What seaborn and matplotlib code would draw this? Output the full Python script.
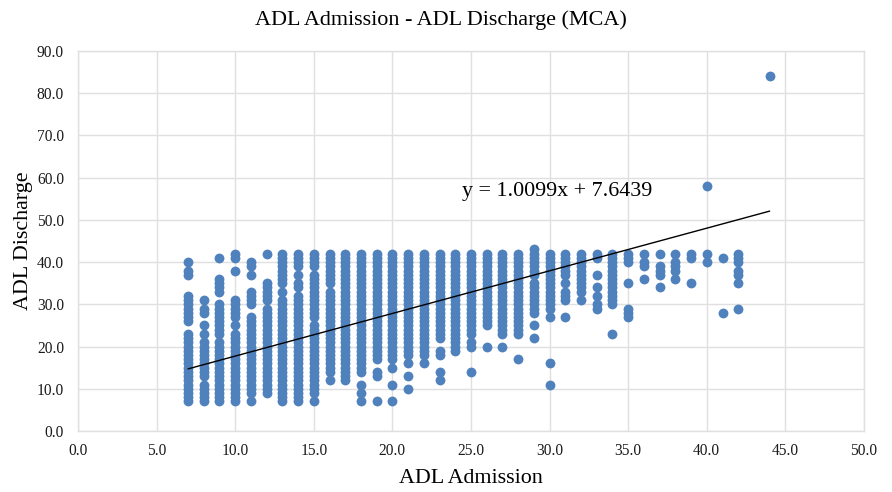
import pandas as pd
import numpy as np
import matplotlib.pyplot as plt
import seaborn as sns

# Discharge scores, one list per admission score
d07 = [40, 38, 37, 32, 31, 30, 29, 28, 27, 26, 23, 22, 21, 20, 19, 18, 17, 16, 15, 14, 13, 12, 11, 10, 9, 8, 7]
d08 = [31, 29, 28, 25, 23, 21, 20, 19, 18, 17, 16, 15, 14, 13, 11, 10, 9, 8, 7]
d09 = [41, 36, 35, 34, 33, 30, 29, 28, 27, 26, 25, 24, 23, 21, 20, 19, 18, 17, 16, 15, 14, 13, 12, 11, 10, 9, 8, 7]
d10 = [42, 41, 38, 31, 30, 29, 28, 27, 25, 23, 22, 21, 20, 19, 18, 17, 16, 15, 14, 13, 12, 11, 10, 9, 8, 7]
d11 = [40, 39, 37, 33, 32, 31, 30, 27, 26, 25, 24, 23, 22, 21, 20, 19, 18, 17, 16, 15, 14, 13, 12, 11, 10, 9, 7]
d12 = [42, 35, 34, 33, 32, 31, 29, 28, 27, 26, 25, 24, 23, 22, 21, 20, 19, 18, 17, 16, 15, 14, 13, 12, 11, 10, 9]
d13 = [42, 41, 40, 39, 38, 37, 36, 35, 33, 31, 30, 29, 28, 27, 26, 25, 24, 23, 22, 21, 20, 19, 18, 17, 16, 15, 14, 13, 12, 11, 10, 9, 8, 7]
d14 = [42, 41, 40, 39, 37, 35, 34, 32, 31, 30, 29, 28, 27, 26, 25, 24, 23, 22, 21, 20, 19, 18, 17, 16, 15, 14, 13, 12, 11, 10, 9, 8, 7]
d15 = [42, 41, 40, 39, 37, 36, 35, 34, 33, 32, 31, 30, 29, 28, 27, 25, 24, 23, 22, 21, 20, 19, 18, 17, 16, 15, 14, 13, 12, 11, 10, 9, 7]
d16 = [42, 41, 40, 39, 38, 37, 36, 35, 33, 32, 31, 30, 29, 28, 27, 26, 25, 24, 23, 22, 21, 20, 19, 18, 17, 16, 15, 14, 12]
d17 = [42, 41, 40, 39, 38, 37, 36, 35, 34, 33, 32, 31, 30, 29, 28, 27, 26, 25, 24, 23, 22, 21, 20, 19, 18, 17, 16, 15, 14, 13, 12]
d18 = [42, 41, 40, 39, 38, 37, 36, 35, 34, 33, 32, 31, 30, 29, 28, 27, 26, 25, 24, 23, 22, 21, 20, 19, 18, 17, 16, 15, 14, 11, 9, 7]
d19 = [42, 41, 40, 39, 38, 37, 36, 35, 34, 33, 32, 31, 30, 29, 28, 27, 26, 25, 24, 23, 22, 21, 20, 19, 18, 17, 14, 13, 7]
d20 = [42, 41, 40, 39, 38, 37, 36, 35, 34, 33, 32, 31, 30, 29, 28, 27, 26, 25, 24, 23, 22, 21, 20, 19, 18, 17, 15, 11, 7]
d21 = [42, 41, 40, 39, 38, 37, 36, 35, 34, 33, 32, 31, 30, 29, 28, 27, 26, 25, 24, 23, 22, 21, 20, 19, 18, 16, 13, 10]
d22 = [42, 41, 40, 39, 38, 37, 36, 35, 34, 33, 32, 31, 30, 29, 28, 27, 26, 25, 24, 23, 22, 21, 20, 19, 18, 16]
d23 = [42, 41, 40, 39, 38, 37, 36, 35, 34, 33, 32, 31, 30, 29, 28, 27, 26, 25, 24, 23, 22, 19, 18, 14, 12]
d24 = [42, 41, 40, 39, 38, 37, 36, 35, 34, 33, 32, 31, 30, 29, 28, 27, 26, 25, 24, 23, 22, 21, 20, 19]
d25 = [42, 41, 40, 39, 38, 37, 36, 35, 34, 33, 32, 31, 30, 29, 28, 27, 26, 25, 24, 23, 21, 20, 14]
d26 = [42, 41, 40, 39, 38, 37, 36, 35, 34, 33, 32, 31, 30, 29, 28, 27, 26, 25, 20]
d27 = [42, 41, 40, 39, 38, 37, 36, 35, 34, 33, 32, 31, 30, 29, 28, 27, 26, 25, 24, 23, 20]
d28 = [42, 41, 40, 39, 38, 37, 36, 35, 34, 33, 32, 31, 30, 29, 28, 27, 26, 25, 24, 23, 17]
d29 = [43, 42, 41, 40, 39, 38, 37, 35, 34, 33, 32, 31, 30, 29, 28, 25, 22]
d30 = [42, 41, 40, 39, 38, 37, 36, 35, 34, 33, 32, 31, 30, 29, 27, 16, 11]
d31 = [42, 41, 40, 39, 38, 37, 35, 33, 32, 31, 27]
d32 = [42, 41, 40, 39, 38, 37, 36, 35, 34, 33, 31]
d33 = [42, 41, 37, 34, 32, 30, 29]
d34 = [42, 41, 40, 39, 38, 37, 36, 35, 34, 33, 32, 31, 30, 23]
d35 = [42, 41, 40, 35, 29, 28, 27]
d36 = [42, 40, 39, 36]
d37 = [42, 39, 38, 37, 34]
d38 = [42, 40, 39, 38, 36]
d39 = [42, 41, 35]
d40 = [58, 42, 40]
d41 = [41, 28]
d42 = [42, 41, 40, 38, 37, 35, 29]
d44 = [84]

admission = [7, 8, 9, 10, 11, 12, 13, 14, 15, 16, 17, 18, 19, 20, 21, 22, 23, 24, 25, 26,
             27, 28, 29, 30, 31, 32, 33, 34, 35, 36, 37, 38, 39, 40, 41, 42, 44]
discharge = [d07, d08, d09, d10, d11, d12, d13, d14, d15, d16, d17, d18, d19, d20, d21, d22, d23, d24, d25, d26,
             d27, d28, d29, d30, d31, d32, d33, d34, d35, d36, d37, d38, d39, d40, d41, d42, d44]

slope = 1.0099
intercept = 7.6439

# Long table for seaborn
rows = []
for a, ys in zip(admission, discharge):
    for y in ys:
        rows.append((a, y))
data = pd.DataFrame(rows, columns=["ADL Admission", "ADL Discharge"])

sns.set_theme(style="white")
plt.rcParams["font.family"] = ["Liberation Serif", "DejaVu Serif"]

fig = plt.figure(figsize=(8.92, 4.92), dpi=100)
ax = fig.add_axes([78 / 892, 1 - 431 / 492, (864 - 78) / 892, (431 - 51) / 492])

sns.scatterplot(x="ADL Admission", y="ADL Discharge", data=data, color="#4F81BD",
                s=50, linewidth=0, zorder=3, ax=ax)

# Trend line from the printed equation
fit_x = np.array([min(admission), max(admission)])
ax.plot(fit_x, slope * fit_x + intercept, color="black", lw=1.0, zorder=4)
ax.text(24.45, 55.6, f"y = {slope}x + {intercept}", fontsize=15.85, color="black", zorder=5)

ax.set_xlim(0, 50)
ax.set_ylim(0, 90)
ax.set_xticks(np.arange(0, 51, 5))
ax.set_yticks(np.arange(0, 91, 10))
ax.set_xticklabels([f"{v:.1f}" for v in np.arange(0, 51, 5)])
ax.set_yticklabels([f"{v:.1f}" for v in np.arange(0, 91, 10)])
ax.tick_params(axis="x", length=0, labelsize=11.2, labelcolor="#1a1a1a", pad=8.5)
ax.tick_params(axis="y", length=0, labelsize=11.2, labelcolor="#1a1a1a", pad=10)
ax.grid(True, color="#E0E0E0", lw=1.0)
ax.set_axisbelow(True)
for s in ax.spines.values():
    s.set_color("#E0E0E0")
    s.set_linewidth(1.0)

ax.set_xlabel("ADL Admission", fontsize=15.8, color="black", labelpad=7.5)
ax.set_ylabel("ADL Discharge", fontsize=15.8, color="black", labelpad=2.5)
fig.text(441 / 892, 1 - 20 / 492, "ADL Admission - ADL Discharge (MCA)", fontsize=15.9,
         color="black", ha="center", va="center")

fig.savefig("out.png", dpi=100)
plt.close(fig)
